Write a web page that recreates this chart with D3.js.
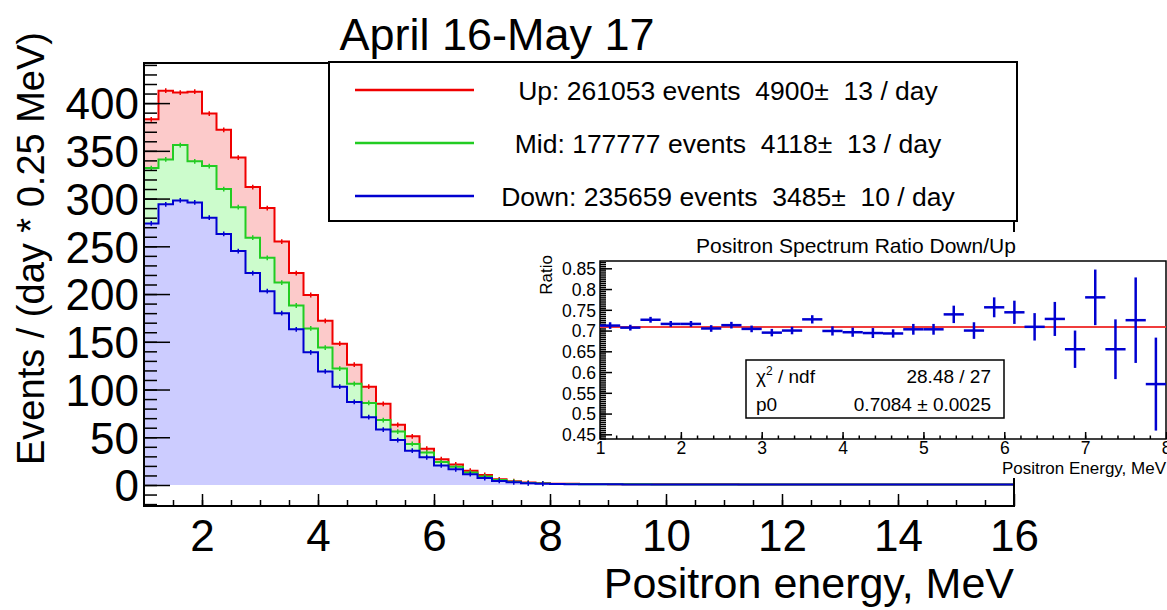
<!DOCTYPE html>
<html>
<head>
  <style>
  body { margin: 0; background: #fff; }
  text { font-family: "Liberation Sans", Arial, sans-serif; fill: #000; }
  .axis .domain { display: none; }
  .axis line { stroke: #000; stroke-width: 1.5; }
  </style>
  <script src="https://cdnjs.cloudflare.com/ajax/libs/d3/7.8.5/d3.min.js"></script>
</head>
<body>
<script>
// histogram binning: 0.25 MeV bins from 1 to 16 MeV
var binLow = 1, binWidth = 0.25;

// events / (day * 0.25 MeV)
var upRate = [383, 413, 411, 412, 389, 372, 343, 312, 290, 255, 222, 199, 172, 148, 126, 103,
  85, 63, 51, 38, 27, 21.5, 15, 10.5, 6, 4, 2.6, 1.8,
  1.4, 1.2, 1.1, 1.0, 0.9, 0.9, 0.8, 0.8, 0.8, 0.7, 0.7, 0.7, 0.7, 0.6, 0.6, 0.6, 0.6, 0.6,
  0.6, 0.5, 0.5, 0.5, 0.5, 0.5, 0.5, 0.5, 0.5, 0.5, 0.5, 0.5, 0.5, 0.5];
var midRate = [332, 341, 356, 339, 334, 310, 291, 259, 238, 212, 188, 164, 144, 122, 106, 86,
  68, 56, 43, 34, 24, 19, 13, 9, 5.2, 3.4, 2.2, 1.5,
  1.1, 1.0, 0.9, 0.8, 0.8, 0.7, 0.7, 0.6, 0.6, 0.6, 0.6, 0.5, 0.5, 0.5, 0.5, 0.5, 0.5, 0.5,
  0.4, 0.4, 0.4, 0.4, 0.4, 0.4, 0.4, 0.4, 0.4, 0.4, 0.4, 0.4, 0.4, 0.4];
var downRate = [274, 294, 298, 296, 280, 263, 245, 222, 203, 180, 163, 139, 119, 103, 87, 71,
  58, 47, 36, 29, 20.5, 16.5, 11.3, 7.2, 4.2, 2.8, 1.8, 1.3,
  1.0, 0.9, 0.8, 0.7, 0.7, 0.6, 0.6, 0.6, 0.5, 0.5, 0.5, 0.5, 0.5, 0.4, 0.4, 0.4, 0.4, 0.4,
  0.4, 0.4, 0.4, 0.4, 0.4, 0.4, 0.4, 0.4, 0.4, 0.4, 0.4, 0.4, 0.4, 0.4];
var errMark = 2.5;

var seriesNames = ["Up", "Mid", "Down"];
var legendLabels = ["Up: 261053 events  4900\u00b1  13 / day",
                    "Mid: 177777 events  4118\u00b1  13 / day",
                    "Down: 235659 events  3485\u00b1  10 / day"];
var lineColors = ["#f00000", "#22cc22", "#0000d0"];
var fillColors = ["#fccaca", "#ccfccc", "#ccccff"];

var yMajorTicks = [0, 50, 100, 150, 200, 250, 300, 350, 400];
var xMajorTicks = [2, 4, 6, 8, 10, 12, 14, 16];

// inset: ratio Down/Up, 0.25 MeV bins from 1 to 8 MeV
var ratioLow = 1, ratioBinWidth = 0.25;
var ratioValues = [0.712, 0.707, 0.726, 0.716, 0.716, 0.705, 0.713, 0.704, 0.695, 0.700,
  0.727, 0.699, 0.696, 0.694, 0.693, 0.703, 0.703, 0.739, 0.700, 0.756, 0.744, 0.709,
  0.728, 0.655, 0.780, 0.655, 0.725, 0.571];
var ratioErrors = [0.008, 0.007, 0.007, 0.007, 0.007, 0.008, 0.008, 0.008, 0.009, 0.009,
  0.010, 0.011, 0.011, 0.012, 0.010, 0.013, 0.013, 0.021, 0.020, 0.024, 0.028, 0.033,
  0.041, 0.045, 0.067, 0.072, 0.103, 0.112];
var fitP0 = 0.7084;
var ratioYTicks = [0.45, 0.5, 0.55, 0.6, 0.65, 0.7, 0.75, 0.8, 0.85];
var ratioXTicks = [1, 2, 3, 4, 5, 6, 7, 8];
var statsRows = [["chi", "28.48 / 27"], ["p0", "0.7084 \u00b1 0.0025"]];

var W = 1167, H = 610;
var svg = d3.select("body").append("svg").attr("width", W).attr("height", H);

// ---------- main plot ----------
var fl = 144, fr = 1014, ft = 63, fb = 506;
var x = d3.scaleLinear().domain([1, 16]).range([fl, fr]);
var y = d3.scaleLinear().domain([-22, 442]).range([fb, ft]);

function histPoints(vals) {
  var pts = vals.map(function(v, i) { return {e: binLow + i * binWidth, v: v}; });
  pts.push({e: binLow + vals.length * binWidth, v: vals[vals.length - 1]});
  return pts;
}

var area = d3.area().curve(d3.curveStepAfter)
  .x(function(d) { return x(d.e); }).y0(y(0)).y1(function(d) { return y(d.v); });
var line = d3.line().curve(d3.curveStepAfter)
  .x(function(d) { return x(d.e); }).y(function(d) { return y(d.v); });

var allRates = [upRate, midRate, downRate];
allRates.forEach(function(vals, k) {
  var pts = histPoints(vals);
  var g = svg.append("g").attr("class", "hist-" + seriesNames[k]);
  g.append("path").attr("d", area(pts)).attr("fill", fillColors[k]);
  g.append("path").attr("d", line(pts)).attr("fill", "none")
    .attr("stroke", lineColors[k]).attr("stroke-width", 2);
  g.selectAll("line").data(vals.slice(0, 28)).enter().append("line")
    .attr("x1", function(d, i) { return x(binLow + (i + 0.5) * binWidth); })
    .attr("x2", function(d, i) { return x(binLow + (i + 0.5) * binWidth); })
    .attr("y1", function(d) { return y(d + errMark); })
    .attr("y2", function(d) { return y(d - errMark); })
    .attr("stroke", lineColors[k]).attr("stroke-width", 1.5);
});

// y axis (ticks inward)
svg.append("g").attr("class", "axis").attr("transform", "translate(" + fl + ",0)")
  .call(d3.axisLeft(y).tickValues(d3.range(-20, 441, 10)).tickSize(-13).tickFormat(""));
svg.append("g").attr("class", "axis").attr("transform", "translate(" + fl + ",0)")
  .call(d3.axisLeft(y).tickValues(yMajorTicks).tickSize(-26).tickPadding(5))
  .selectAll("text").attr("font-size", 44).attr("dy", "0.36em");

// x axis
svg.append("g").attr("class", "axis").attr("transform", "translate(0," + fb + ")")
  .call(d3.axisBottom(x).tickValues(d3.range(1.5, 16, 0.5)).tickSize(-6).tickFormat(""));
svg.append("g").attr("class", "axis").attr("transform", "translate(0," + fb + ")")
  .call(d3.axisBottom(x).tickValues(xMajorTicks).tickSize(-12).tickPadding(8))
  .selectAll("text").attr("font-size", 44).attr("dy", "0.85em");

svg.append("rect").attr("x", fl).attr("y", ft).attr("width", fr - fl).attr("height", fb - ft)
  .attr("fill", "none").attr("stroke", "#000").attr("stroke-width", 2);

svg.append("text").attr("x", 497).attr("y", 50).attr("text-anchor", "middle")
  .attr("font-size", 45).text("April 16-May 17");

svg.append("text").attr("x", fr).attr("y", 598).attr("text-anchor", "end")
  .attr("font-size", 43).text("Positron energy, MeV");

svg.append("text").attr("transform", "translate(44,32) rotate(-90)")
  .attr("text-anchor", "end").attr("font-size", 38).text("Events / (day * 0.25 MeV)");

// legend
var lg = svg.append("g");
lg.append("rect").attr("x", 329).attr("y", 62).attr("width", 688).attr("height", 159)
  .attr("fill", "#fff").attr("stroke", "#000").attr("stroke-width", 2);
var rows = lg.selectAll("g.row").data(legendLabels).enter().append("g").attr("class", "row")
  .attr("transform", function(d, i) { return "translate(0," + (90 + i * 53) + ")"; });
rows.append("line").attr("x1", 355).attr("x2", 474).attr("y1", 0).attr("y2", 0)
  .attr("stroke", function(d, i) { return lineColors[i]; }).attr("stroke-width", 2.5);
rows.append("text").attr("x", 728).attr("y", 10).attr("text-anchor", "middle")
  .attr("font-size", 26.5).attr("xml:space", "preserve").text(function(d) { return d; });

// ---------- inset: ratio ----------
svg.append("rect").attr("x", 530).attr("y", 232).attr("width", 637).attr("height", 246)
  .attr("fill", "#fff");

var il = 600, ir = 1166, it = 261, ib = 439;
var rx = d3.scaleLinear().domain([1, 8]).range([il, ir]);
var ry = d3.scaleLinear().domain([0.4387, 0.8676]).range([ib, it]);

var inset = svg.append("g");

inset.append("g").attr("class", "axis").attr("transform", "translate(" + il + ",0)")
  .call(d3.axisLeft(ry).tickValues(d3.range(0.44, 0.8676, 0.005)).tickSize(-6).tickFormat(""))
  .selectAll("line").attr("stroke-width", 1);
inset.append("g").attr("class", "axis").attr("transform", "translate(" + il + ",0)")
  .call(d3.axisLeft(ry).tickValues(ratioYTicks).tickSize(-12).tickPadding(4)
    .tickFormat(function(d) { return String(+d.toFixed(2)); }))
  .selectAll("text").attr("font-size", 17.5).attr("dy", "0.36em");

inset.append("g").attr("class", "axis").attr("transform", "translate(0," + ib + ")")
  .call(d3.axisBottom(rx).tickValues(d3.range(1.2, 8, 0.2)).tickSize(-3.5).tickFormat(""))
  .selectAll("line").attr("stroke-width", 1);
inset.append("g").attr("class", "axis").attr("transform", "translate(0," + ib + ")")
  .call(d3.axisBottom(rx).tickValues(ratioXTicks).tickSize(-7).tickPadding(3)
    .tickFormat(d3.format("d")))
  .selectAll("text").attr("font-size", 17.5).attr("dy", "0.71em");

inset.append("rect").attr("x", il).attr("y", it).attr("width", ir - il).attr("height", ib - it)
  .attr("fill", "none").attr("stroke", "#000").attr("stroke-width", 1.5);

// fit line
inset.append("line").attr("x1", rx(1)).attr("x2", rx(8)).attr("y1", ry(fitP0)).attr("y2", ry(fitP0))
  .attr("stroke", "#f03c3c").attr("stroke-width", 2);

// points with error bars
var pts = inset.selectAll("g.pt").data(ratioValues).enter().append("g").attr("class", "pt");
pts.append("line")
  .attr("x1", function(d, i) { return rx(ratioLow + i * ratioBinWidth); })
  .attr("x2", function(d, i) { return rx(ratioLow + (i + 1) * ratioBinWidth); })
  .attr("y1", function(d) { return ry(d); }).attr("y2", function(d) { return ry(d); })
  .attr("stroke", "#0000d0").attr("stroke-width", 2.5);
pts.append("line")
  .attr("x1", function(d, i) { return rx(ratioLow + (i + 0.5) * ratioBinWidth); })
  .attr("x2", function(d, i) { return rx(ratioLow + (i + 0.5) * ratioBinWidth); })
  .attr("y1", function(d, i) { return ry(d + ratioErrors[i]); })
  .attr("y2", function(d, i) { return ry(d - ratioErrors[i]); })
  .attr("stroke", "#0000d0").attr("stroke-width", 2.5);

// stats box
inset.append("rect").attr("x", 746).attr("y", 360).attr("width", 258).attr("height", 58)
  .attr("fill", "#fff").attr("stroke", "#000").attr("stroke-width", 1.5);
var chi = inset.append("text").attr("x", 756).attr("y", 383).attr("font-size", 19);
chi.append("tspan").text("\u03c7");
chi.append("tspan").attr("dy", -8).attr("font-size", 12).text("2");
chi.append("tspan").attr("dy", 8).text(" / ndf");
inset.append("text").attr("x", 756).attr("y", 411).attr("font-size", 19).text(statsRows[1][0]);
statsRows.forEach(function(r, i) {
  inset.append("text").attr("x", 991).attr("y", 383 + i * 28).attr("text-anchor", "end")
    .attr("font-size", 19).text(r[1]);
});

inset.append("text").attr("x", 856).attr("y", 253).attr("text-anchor", "middle")
  .attr("font-size", 21).text("Positron Spectrum Ratio Down/Up");
inset.append("text").attr("transform", "translate(552,255) rotate(-90)")
  .attr("text-anchor", "end").attr("font-size", 17).text("Ratio");
inset.append("text").attr("x", 1166).attr("y", 474).attr("text-anchor", "end")
  .attr("font-size", 17).text("Positron Energy, MeV");
</script>
</body>
</html>
